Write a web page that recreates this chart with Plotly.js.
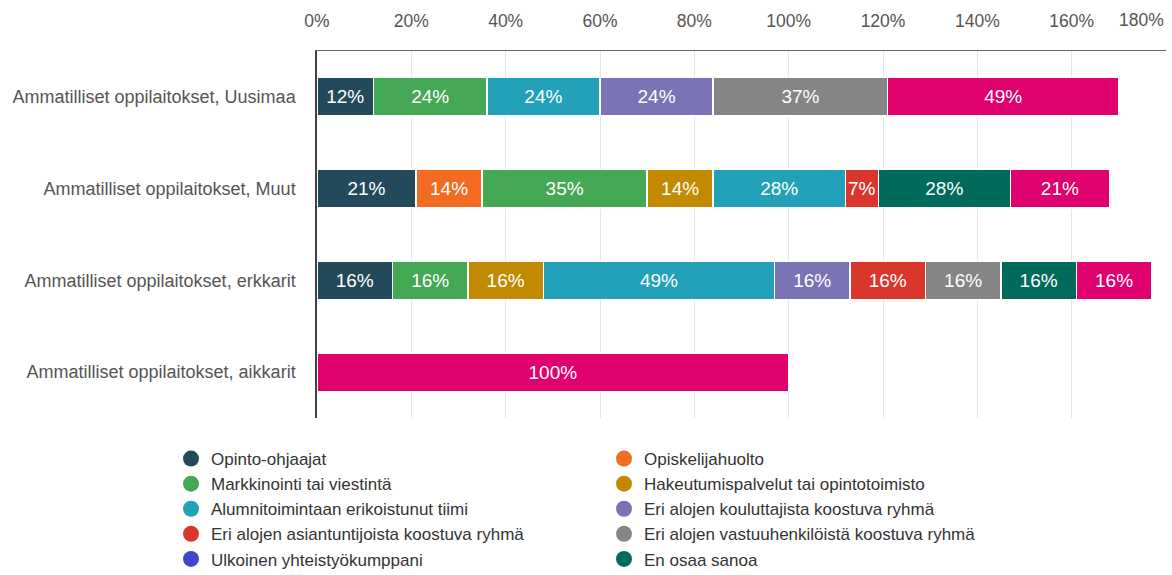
<!DOCTYPE html>
<html>
<head>
<meta charset="utf-8">
<script src="https://cdn.plot.ly/plotly-3.0.1.min.js"></script>
<style>html,body{margin:0;padding:0;background:#fff;}</style>
</head>
<body>
<div id="chart" style="width:1172px;height:640px;"></div>
<script>
const categories = [
  "Ammatilliset oppilaitokset, Uusimaa",
  "Ammatilliset oppilaitokset, Muut",
  "Ammatilliset oppilaitokset, erkkarit",
  "Ammatilliset oppilaitokset, aikkarit"
];
const seriesNames = [
  "Opinto-ohjaajat",
  "Opiskelijahuolto",
  "Markkinointi tai viestintä",
  "Hakeutumispalvelut tai opintotoimisto",
  "Alumnitoimintaan erikoistunut tiimi",
  "Eri alojen kouluttajista koostuva ryhmä",
  "Eri alojen asiantuntijoista koostuva ryhmä",
  "Eri alojen vastuuhenkilöistä koostuva ryhmä",
  "Ulkoinen yhteistyökumppani",
  "En osaa sanoa",
  "Muu"
];
// the last series' legend entry lies below the visible area in the reference
const legendVisible = [true, true, true, true, true, true, true, true, true, true, false];
const seriesColors = ["#234a5a","#f26b21","#45a854","#c28a00","#22a1b8","#7a73b6","#d9372b","#858585","#3f48cc","#006b5a","#e0006e"];
// values per series, in category order (null = 0 / not shown)
const opintoOhjaajat      = [12, 21, 16, null];
const opiskelijahuolto    = [null, 14, null, null];
const markkinointi        = [24, 35, 16, null];
const hakeutumispalvelut  = [null, 14, 16, null];
const alumnitoiminta      = [24, 28, 49, null];
const kouluttajista       = [24, null, 16, null];
const asiantuntijoista    = [null, 7, 16, null];
const vastuuhenkiloista   = [37, null, 16, null];
const ulkoinen            = [null, null, null, null];
const enOsaa              = [null, 28, 16, null];
const muu                 = [49, 21, 16, 100];
const seriesValues = [opintoOhjaajat, opiskelijahuolto, markkinointi, hakeutumispalvelut, alumnitoiminta, kouluttajista, asiantuntijoista, vastuuhenkiloista, ulkoinen, enOsaa, muu];
const tickVals = [0,20,40,60,80,100,120,140,160,180];
const tickText = ["0%","20%","40%","60%","80%","100%","120%","140%","160%","180%"];

const font = "Liberation Sans, Arial, sans-serif";
const H = 640, B = H - 418;
const traces = [];
seriesNames.forEach((name, i) => {
  traces.push({
    type: "bar", orientation: "h", name: name,
    y: categories, x: seriesValues[i],
    marker: {color: seriesColors[i], line: {color: "#ffffff", width: 1.5}},
    width: 0.42,
    text: seriesValues[i].map(v => v == null ? "" : v + "%"),
    textposition: "inside", insidetextanchor: "middle", textangle: 0,
    textfont: {color: "#ffffff", size: 19, family: font},
    constraintext: "none",
    cliponaxis: false,
    hoverinfo: "x+name",
    showlegend: false
  });
});
seriesNames.forEach((name, i) => {
  traces.push({
    type: "scatter", mode: "markers", name: name,
    x: [null], y: [null],
    marker: {color: seriesColors[i], size: 17, symbol: "circle"},
    showlegend: legendVisible[i], hoverinfo: "skip"
  });
});

const layout = {
  width: 1172, height: H,
  margin: {l: 317, r: 6, t: 51, b: B},
  barmode: "stack",
  paper_bgcolor: "#fff", plot_bgcolor: "#fff",
  font: {family: font, color: "#333"},
  xaxis: {
    side: "top", range: [0, 180],
    tickvals: tickVals.slice(0, 9), ticktext: tickText.slice(0, 9),
    showgrid: true, gridcolor: "#e6e6e6", gridwidth: 1,
    showline: true, linecolor: "#666", linewidth: 1,
    zeroline: false, ticks: "",
    tickfont: {size: 17.5, color: "#555", family: font},
    ticklabelstandoff: 16,
    fixedrange: true
  },
  yaxis: {
    autorange: "reversed", type: "category",
    showline: true, linecolor: "#444", linewidth: 1.5,
    showgrid: false, zeroline: false, ticks: "",
    tickfont: {size: 18, color: "#555", family: font},
    ticklabelstandoff: 16,
    fixedrange: true
  },
  annotations: [{
    xref: "x", yref: "paper", x: 180, y: 1, xanchor: "right", yanchor: "bottom",
    yshift: 19, text: tickText[9], showarrow: false,
    font: {size: 17.5, color: "#555", family: font}
  }],
  legend: {
    orientation: "h", xref: "paper", yref: "paper",
    x: (171 - 317) / 849, y: -(441 - 418) / 367, xanchor: "left", yanchor: "top",
    entrywidthmode: "pixels", entrywidth: 388,
    font: {size: 17, color: "#333", family: font},
    itemclick: false, itemdoubleclick: false, traceorder: "normal"
  },
  showlegend: true
};
Plotly.newPlot("chart", traces, layout, {displayModeBar: false, staticPlot: false});
</script>
</body>
</html>
